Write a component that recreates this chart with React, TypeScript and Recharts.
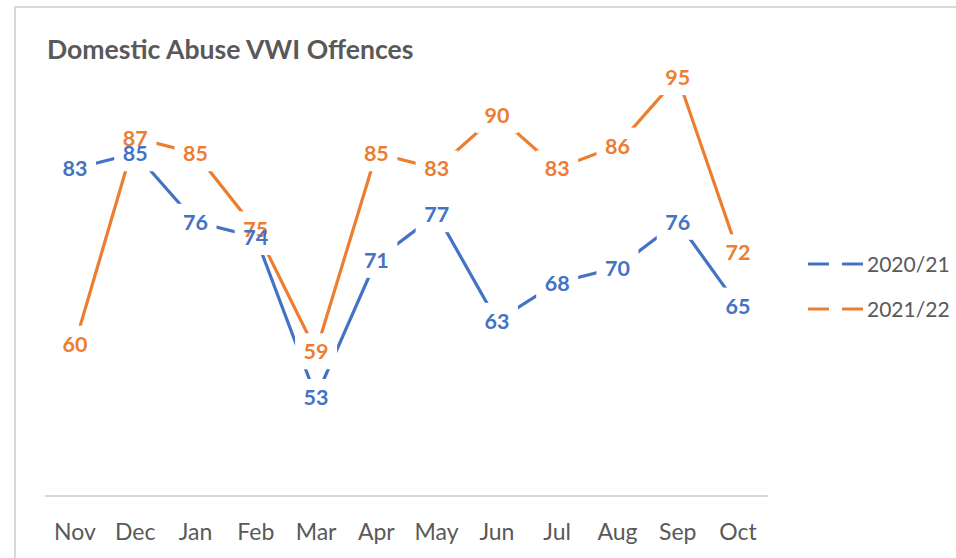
import { LineChart, Line, XAxis, YAxis, LabelList } from "recharts";

const months = ["Nov", "Dec", "Jan", "Feb", "Mar", "Apr", "May", "Jun", "Jul", "Aug", "Sep", "Oct"];
const fy2021 = [83, 85, 76, 74, 53, 71, 77, 63, 68, 70, 76, 65];
const fy2122 = [60, 87, 85, 75, 59, 85, 83, 90, 83, 86, 95, 72];
const seriesNames = ["2020/21", "2021/22"];
const title = "Domestic Abuse VWI Offences";

const BLUE = "#4472C4";
const ORANGE = "#ED7D31";
const GREY = "#595959";
const FONT = "Lato, 'Open Sans', sans-serif";

const data = months.map((m, i) => ({ month: m, a: fy2021[i], b: fy2122[i] }));

const pos = (p: any) => ({
  x: p.viewBox?.x ?? p.x,
  y: p.viewBox?.y ?? p.y,
});

// white box behind each data label, breaks the line like Excel does
const LabelBox = (p: any) => {
  const { x, y } = pos(p);
  if (x == null || y == null) return null;
  return <rect x={x - 21} y={y - 18} width={42} height={36} fill="#fff" />;
};

const labelText = (color: string) => (p: any) => {
  const { x, y } = pos(p);
  if (x == null || y == null) return null;
  return (
    <text x={x} y={y + 8} textAnchor="middle" fill={color}
      style={{ fontFamily: FONT, fontSize: 21.5, fontWeight: 700 }}>
      {p.value}
    </text>
  );
};

export default function App() {
  const colors = [BLUE, ORANGE];
  return (
    <div style={{ position: "absolute", left: 0, top: 0, width: 956, height: 558, overflow: "hidden", background: "#fff" }}>
      <div style={{ position: "absolute", left: 14, top: 6, width: 1000, height: 600, border: "2px solid #d9d9d9" }} />
      <div style={{ position: "absolute", left: 0, top: 0 }}>
        <LineChart width={956} height={558} data={data} margin={{ top: 39, right: 188, bottom: 0, left: 45 }}>
          <XAxis
            dataKey="month"
            height={62}
            padding={{ left: 30, right: 30 }}
            axisLine={{ stroke: "#d9d9d9", strokeWidth: 2 }}
            tickLine={false}
            tickMargin={22}
            tick={{ fill: GREY, fontSize: 23, fontFamily: FONT }}
            interval={0}
          />
          <YAxis hide domain={[40, 100]} width={0} />
          <Line dataKey="a" stroke={BLUE} strokeWidth={3.2} dot={false} activeDot={false} isAnimationActive={false} />
          <Line dataKey="b" stroke={ORANGE} strokeWidth={3.2} dot={false} activeDot={false} isAnimationActive={false} />
          <Line dataKey="b" stroke="none" dot={false} activeDot={false} isAnimationActive={false} legendType="none">
            <LabelList dataKey="b" content={LabelBox} />
          </Line>
          <Line dataKey="a" stroke="none" dot={false} activeDot={false} isAnimationActive={false} legendType="none">
            <LabelList dataKey="a" content={LabelBox} />
          </Line>
          <Line dataKey="b" stroke="none" dot={false} activeDot={false} isAnimationActive={false} legendType="none">
            <LabelList dataKey="b" content={labelText(ORANGE)} />
          </Line>
          <Line dataKey="a" stroke="none" dot={false} activeDot={false} isAnimationActive={false} legendType="none">
            <LabelList dataKey="a" content={labelText(BLUE)} />
          </Line>
        </LineChart>
      </div>
      <svg width={956} height={558} style={{ position: "absolute", left: 0, top: 0, pointerEvents: "none" }}>
        <text x={47} y={59} fill={GREY} style={{ fontFamily: FONT, fontSize: 26.6, fontWeight: 700 }}>
          {title}
        </text>
        {seriesNames.map((name, i) => {
          const cy = 264 + i * 45;
          return (
            <g key={name}>
              <line x1={808} x2={829} y1={cy} y2={cy} stroke={colors[i]} strokeWidth={3} />
              <line x1={842} x2={863} y1={cy} y2={cy} stroke={colors[i]} strokeWidth={3} />
              <text x={867} y={cy + 8} fill={GREY} style={{ fontFamily: FONT, fontSize: 21 }}>
                {name}
              </text>
            </g>
          );
        })}
      </svg>
    </div>
  );
}
